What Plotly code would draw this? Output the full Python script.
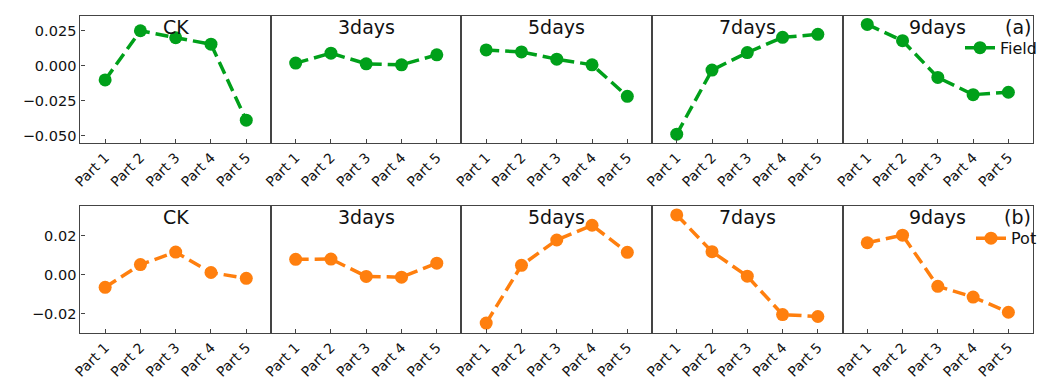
import plotly.graph_objects as go

parts = ["Part 1", "Part 2", "Part 3", "Part 4", "Part 5"]
stages = ["CK", "3days", "5days", "7days", "9days"]

# Field series, one list per stage
field_ck = [-0.0103, 0.0248, 0.0198, 0.0152, -0.0390]
field_3d = [0.0017, 0.0088, 0.0012, 0.0005, 0.0076]
field_5d = [0.0111, 0.0097, 0.0045, 0.0005, -0.0220]
field_7d = [-0.0490, -0.0033, 0.0092, 0.0201, 0.0222]
field_9d = [0.0293, 0.0177, -0.0085, -0.0208, -0.0191]

# Pot series, one list per stage
pot_ck = [-0.0064, 0.0053, 0.0117, 0.0012, -0.0018]
pot_3d = [0.0080, 0.0081, -0.0008, -0.0012, 0.0060]
pot_5d = [-0.0248, 0.0049, 0.0179, 0.0255, 0.0116]
pot_7d = [0.0308, 0.0119, -0.0007, -0.0204, -0.0214]
pot_9d = [0.0165, 0.0204, -0.0059, -0.0114, -0.0192]

field_rows = [field_ck, field_3d, field_5d, field_7d, field_9d]
pot_rows = [pot_ck, pot_3d, pot_5d, pot_7d, pot_9d]

field_ticks = [0.025, 0.0, -0.025, -0.05]
field_ticklabels = ["0.025", "0.000", "\u22120.025", "\u22120.050"]
pot_ticks = [0.02, 0.0, -0.02]
pot_ticklabels = ["0.02", "0.00", "\u22120.02"]

GREEN = "#00a01a"
ORANGE = "#ff7f0e"
FONT = "DejaVu Sans"
AX = "#444444"

W, H = 1044, 380
left, pw = 73, 192
rows_px = [(16, 144), (208, 335.5)]

fig = go.Figure()
layout = dict(
    width=W, height=H,
    margin=dict(l=0, r=0, t=0, b=0),
    paper_bgcolor="white", plot_bgcolor="white",
    font=dict(family=FONT, color="#111111"),
    annotations=[],
)

groups = [
    (field_rows, GREEN, "Field", "legend", (-0.0552, 0.0354), field_ticks, field_ticklabels, "(a)"),
    (pot_rows, ORANGE, "Pot", "legend2", (-0.0298, 0.0352), pot_ticks, pot_ticklabels, "(b)"),
]

n = 0
for r, (series, color, name, leg, yr, tv, tt, tag) in enumerate(groups):
    top, bot = rows_px[r]
    for c in range(5):
        n += 1
        xa = "x" if n == 1 else f"x{n}"
        ya = "y" if n == 1 else f"y{n}"
        fig.add_trace(go.Scatter(
            x=list(range(5)), y=series[c], xaxis=xa, yaxis=ya,
            mode="lines+markers", name=name, legend=leg,
            showlegend=(c == 4),
            line=dict(color=color, width=3.5, dash="13px,6px"),
            marker=dict(color=color, size=13),
        ))
        x0 = (left + pw * c) / W
        x1 = (left + pw * (c + 1)) / W
        layout["xaxis" if n == 1 else f"xaxis{n}"] = dict(
            domain=[x0, x1], range=[-0.7, 4.7], anchor=ya,
            tickmode="array", tickvals=list(range(5)), ticktext=parts,
            tickangle=-45, ticks="inside", ticklen=4, tickcolor=AX,
            tickfont=dict(size=14, family=FONT, color="#111111"),
            showline=True, linecolor=AX, linewidth=1.3, mirror=True,
            showgrid=False, zeroline=False,
        )
        layout["yaxis" if n == 1 else f"yaxis{n}"] = dict(
            domain=[1 - bot / H, 1 - top / H], range=list(yr), anchor=xa,
            tickmode="array", tickvals=tv, ticktext=tt,
            ticks="inside" if c == 0 else "", ticklen=4, tickcolor=AX,
            showticklabels=(c == 0),
            tickfont=dict(size=14.5, family=FONT, color="#111111"),
            showline=True, linecolor=AX, linewidth=1.3, mirror=True,
            showgrid=False, zeroline=False,
        )
        layout["annotations"].append(dict(
            text=stages[c], xref=f"{xa} domain", yref=f"{ya} domain",
            x=0.5, y=1.0, xanchor="center", yanchor="top", yshift=2,
            showarrow=False, font=dict(size=19, family=FONT, color="#111111"),
        ))
        if c == 4:
            layout["annotations"].append(dict(
                text=tag, xref=f"{xa} domain", yref=f"{ya} domain",
                x=1.0, y=1.0, xanchor="right", yanchor="top", yshift=2,
                showarrow=False, font=dict(size=19, family=FONT, color="#111111"),
            ))
            layout[leg] = dict(
                x=1.0 - 2 / W, y=1 - (top + 15) / H, xanchor="right", yanchor="top",
                bgcolor="rgba(0,0,0,0)", font=dict(size=16, family=FONT, color="#111111"),
                itemwidth=30, borderwidth=0,
            )

fig.update_layout(**layout)
fig.write_html("out.html")
